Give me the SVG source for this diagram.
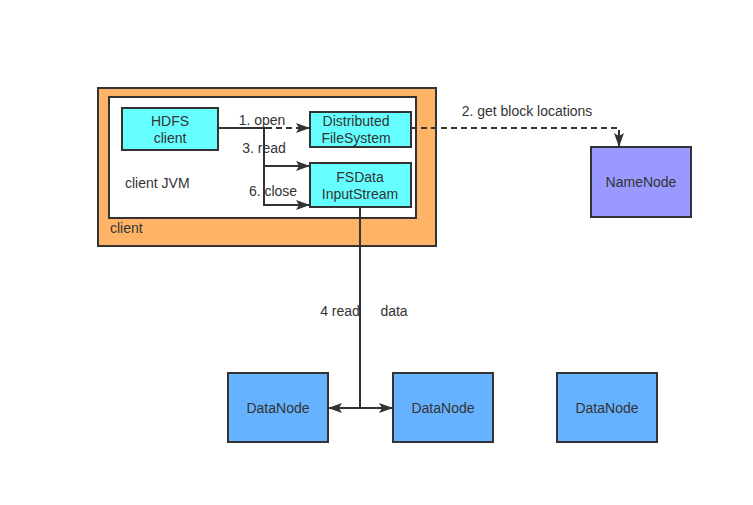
<svg xmlns="http://www.w3.org/2000/svg" width="753" height="505" viewBox="0 0 753 505">
<defs>
<style>
.box{stroke:#333;stroke-width:2}
.t{font-family:"Liberation Sans",Arial,sans-serif;font-size:14px;fill:#333;text-anchor:middle}
.l{font-family:"Liberation Sans",Arial,sans-serif;font-size:14px;fill:#333}
.c{fill:none;stroke:#333;stroke-width:2}
.d{fill:none;stroke:#333;stroke-width:2;stroke-dasharray:6 4}
</style>
<marker id="ah" viewBox="0 0 14 10" refX="14" refY="5" markerWidth="14" markerHeight="10" markerUnits="userSpaceOnUse" orient="auto-start-reverse">
<path d="M0,0 L14,5 L0,10 L3,5 Z" fill="#333"/>
</marker>
</defs>
<rect width="753" height="505" fill="#fff"/>
<g id="client">
<rect class="box" x="98" y="88" width="338" height="158" fill="#FFB366"/>
<text class="l" x="110" y="233">client</text>
</g>
<g id="clientJVM">
<rect class="box" x="109" y="97" width="307" height="121" fill="#fff"/>
<text class="l" x="125" y="188">client JVM</text>
</g>
<g id="hdfsClient">
<rect class="box" x="122" y="108" width="96" height="42" fill="#66FFFF"/>
<text class="t" x="170" y="126">HDFS</text>
<text class="t" x="170" y="142.5">client</text>
</g>
<g id="dfs">
<rect class="box" x="310" y="112" width="101" height="35" fill="#66FFFF"/>
<text class="t" x="356" y="126">Distributed</text>
<text class="t" x="356" y="142.5">FileSystem</text>
</g>
<g id="fsdata">
<rect class="box" x="310" y="163" width="101" height="44" fill="#66FFFF"/>
<text class="t" x="360" y="182">FSData</text>
<text class="t" x="360" y="198.5">InputStream</text>
</g>
<g id="namenode">
<rect class="box" x="591" y="147" width="100" height="70" fill="#9999FF"/>
<text class="t" x="641" y="187">NameNode</text>
</g>
<g id="datanode1">
<rect class="box" x="228" y="373" width="100" height="69" fill="#66B2FF"/>
<text class="t" x="278" y="413">DataNode</text>
</g>
<g id="datanode2">
<rect class="box" x="393" y="373" width="100" height="69" fill="#66B2FF"/>
<text class="t" x="443" y="413">DataNode</text>
</g>
<g id="datanode3">
<rect class="box" x="557" y="373" width="100" height="69" fill="#66B2FF"/>
<text class="t" x="607" y="413">DataNode</text>
</g>
<g id="connectors">
<path class="c" d="M218,128 L266,128"/>
<path class="d" d="M266,128 L310,128" marker-end="url(#ah)"/>
<path class="c" d="M264,128 L264,205 L310,205" marker-end="url(#ah)"/>
<path class="c" d="M264,166 L310,166" marker-end="url(#ah)"/>
<path class="d" d="M411,128 L619,128 L619,147" marker-end="url(#ah)"/>
<path class="c" d="M360,207 L360,408"/>
<path class="c" d="M360,408 L328,408" marker-end="url(#ah)"/>
<path class="c" d="M360,408 L393,408" marker-end="url(#ah)"/>
<text class="t" x="262" y="125">1. open</text>
<text class="t" x="264" y="153">3. read</text>
<text class="t" x="273" y="196">6. close</text>
<text class="t" x="527" y="116">2. get block locations</text>
<text class="t" x="340" y="316">4 read</text>
<text class="t" x="394" y="316">data</text>
</g>
</svg>
